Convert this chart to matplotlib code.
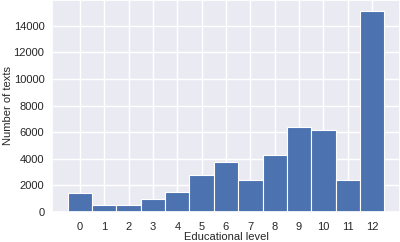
import matplotlib
matplotlib.use("Agg")
import matplotlib.pyplot as plt
import seaborn as sns

levels = list(range(13))
counts = [1400, 540, 550, 940, 1490, 2780, 3740, 2380, 4270, 6430, 6180, 2420, 15150]
tick_labels = [str(l) for l in levels]

sns.set_theme(style="darkgrid")
plt.rcParams['font.family'] = ['Liberation Sans', 'DejaVu Sans']

fig = plt.figure(figsize=(4.0, 2.42), dpi=100)
ax = fig.add_axes([0.13, 0.124, 0.87, 0.876])
ax.bar(levels, counts, width=1.0, color="#4C72B0", edgecolor="white", linewidth=0.8)
ax.set_xlim(-1.15, 13.15)
ax.set_ylim(0, 15950)
ax.set_xticks(levels)
ax.set_xticklabels(tick_labels)
ax.set_yticks([0, 2000, 4000, 6000, 8000, 10000, 12000, 14000])
ax.tick_params(axis='x', labelsize=8, length=0, pad=7, colors='#262626')
ax.tick_params(axis='y', labelsize=8, length=0, pad=5.5, colors='#262626')
ax.set_xlabel("Educational level", fontsize=8, color='#262626')
ax.set_ylabel("Number of texts", fontsize=8, color='#262626')
ax.xaxis.set_label_coords(0.5, -0.093)
ax.yaxis.set_label_coords(-0.112, 0.5)
fig.savefig("out.png", dpi=100)
